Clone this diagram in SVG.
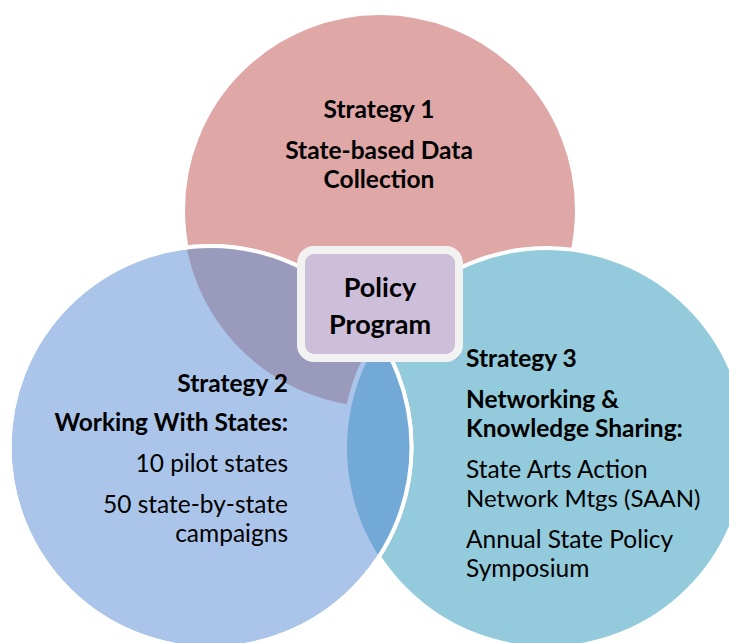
<svg xmlns="http://www.w3.org/2000/svg" width="729" height="643" viewBox="0 0 729 643">
<style>
.b{font-family:Lato,"Open Sans","Liberation Sans",sans-serif;font-weight:700;font-size:24.5px;fill:#000}
.r{font-family:Lato,"Open Sans","Liberation Sans",sans-serif;font-weight:400;font-size:24.5px;fill:#000}
.p{font-size:27px}
.edge{stroke:#fff;stroke-width:4}
</style>
<defs>
<clipPath id="clipLeft"><circle cx="210.5" cy="447" r="201"/></clipPath>
</defs>
<rect width="729" height="643" fill="#fff"/>
<g id="strategy1">
<circle cx="380" cy="210" r="197" fill="#DFA7A6" class="edge"/>
</g>
<g id="strategy3">
<circle cx="547" cy="448" r="200" fill="#93CBDC" class="edge"/>
</g>
<g id="strategy2">
<circle cx="210.5" cy="447" r="201" fill="#AAC5E9" class="edge"/>
<g clip-path="url(#clipLeft)">
<circle cx="380" cy="210" r="197" fill="#9A9ABD"/>
<circle cx="547" cy="448" r="205" fill="#AAC5E9"/>
<circle cx="547" cy="448" r="200" fill="#73A9D6"/>
</g>
<circle cx="210.5" cy="447" r="201" fill="none" class="edge"/>
</g>
<g id="connectors"></g>
<g id="strategy1-text">
<text class="b" x="379" y="118" text-anchor="middle">Strategy 1</text>
<text class="b" x="379" y="159" text-anchor="middle">State-based Data</text>
<text class="b" x="379" y="188" text-anchor="middle">Collection</text>
</g>
<g id="strategy2-text">
<text class="b" x="288" y="392" text-anchor="end">Strategy 2</text>
<text class="b" x="288" y="431" text-anchor="end">Working With States:</text>
<text class="r" x="288" y="472" text-anchor="end">10 pilot states</text>
<text class="r" x="288" y="513" text-anchor="end">50 state-by-state</text>
<text class="r" x="288" y="542" text-anchor="end">campaigns</text>
</g>
<g id="strategy3-text">
<text class="b" x="466" y="367">Strategy 3</text>
<text class="b" x="466" y="408">Networking &amp;</text>
<text class="b" x="466" y="437">Knowledge Sharing:</text>
<text class="r" x="466" y="478">State Arts Action</text>
<text class="r" x="466" y="507" style="font-size:24px">Network Mtgs (SAAN)</text>
<text class="r" x="466" y="548">Annual State Policy</text>
<text class="r" x="466" y="577">Symposium</text>
</g>
<g id="policy-program">
<rect x="303" y="253" width="159" height="108" rx="13" fill="#5A5F80" opacity="0.7"/>
<rect x="301" y="250" width="158" height="108" rx="13" fill="#CDBFD9" stroke="#F2F2F2" stroke-width="8"/>
<text class="b p" x="380" y="297" text-anchor="middle">Policy</text>
<text class="b p" x="380" y="334" text-anchor="middle">Program</text>
</g>
</svg>
